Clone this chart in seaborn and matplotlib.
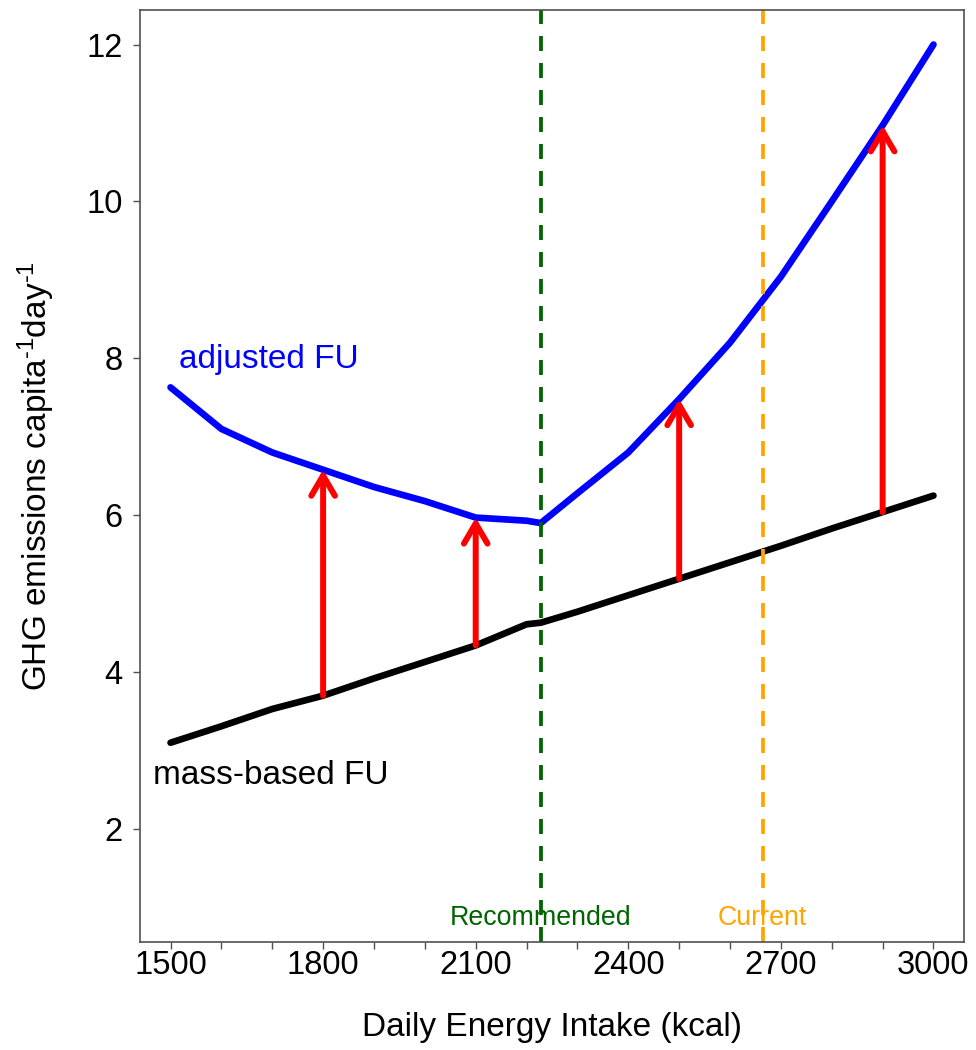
import matplotlib
matplotlib.use("Agg")
import matplotlib.pyplot as plt
import pandas as pd
import seaborn as sns

# ---- data ----
energy = [1500, 1600, 1700, 1800, 1900, 2000, 2100, 2200, 2228, 2300,
          2400, 2500, 2600, 2700, 2800, 2900, 3000]
mass_based = [3.10, 3.31, 3.53, 3.70, 3.92, 4.13, 4.34, 4.61, 4.63, 4.77,
              4.98, 5.19, 5.40, 5.61, 5.83, 6.04, 6.25]
adjusted = [7.63, 7.10, 6.80, 6.58, 6.36, 6.18, 5.97, 5.93, 5.90, 6.28,
            6.80, 7.48, 8.20, 9.04, 10.00, 10.97, 12.00]
arrow_energy = [1800, 2100, 2500, 2900]
recommended_kcal = 2228
current_kcal = 2664
x_major = [1500, 1800, 2100, 2400, 2700, 3000]
x_minor = list(range(1500, 3001, 100))
y_ticks = [2, 4, 6, 8, 10, 12]
series_names = ["mass-based FU", "adjusted FU"]

sns.set_theme(style="ticks")
plt.rcParams["font.family"] = ["Liberation Sans", "DejaVu Sans"]
plt.rcParams["mathtext.default"] = "regular"

W, H = 976, 1050
fig = plt.figure(figsize=(W / 100, H / 100), dpi=100)
ax = fig.add_axes([140 / W, 1 - 942 / H, (964 - 140) / W, (942 - 10) / H])

df = pd.DataFrame({
    "energy": energy + energy,
    "ghg": mass_based + adjusted,
    "fu": [series_names[0]] * len(energy) + [series_names[1]] * len(energy),
})
sns.lineplot(data=df, x="energy", y="ghg", hue="fu", hue_order=series_names,
             palette={series_names[0]: "black", series_names[1]: "#0000FF"},
             linewidth=4.8, legend=False, ax=ax,
             solid_capstyle="round", solid_joinstyle="round")

# red arrows from mass-based to adjusted
for xv in arrow_energy:
    i = energy.index(xv)
    ax.annotate("", xy=(xv, adjusted[i]), xytext=(xv, mass_based[i]),
                arrowprops=dict(arrowstyle="->,head_length=1.45,head_width=0.85",
                                mutation_scale=10, color="#FF0000", lw=4.3,
                                shrinkA=0, shrinkB=0,
                                capstyle="round", joinstyle="round"))

ax.axvline(recommended_kcal, color="#006400", lw=2.7, dashes=(4.0, 3.2))
ax.axvline(current_kcal, color="#FFA500", lw=2.7, dashes=(4.0, 3.2))

ax.text(1517, 7.88, "adjusted FU", color="#0000FF", fontsize=24,
        ha="left", va="baseline")
ax.text(1465, 2.57, "mass-based FU", color="black", fontsize=24,
        ha="left", va="baseline")
ax.text(recommended_kcal, 0.78, "Recommended", color="#006400", fontsize=19.3,
        ha="center", va="baseline")
ax.text(current_kcal, 0.78, "Current", color="#FFA500", fontsize=19.3,
        ha="center", va="baseline")

ax.set_xlim(1440, 3060)
ax.set_ylim(0.56, 12.44)
ax.set_xticks(x_major)
ax.set_xticklabels([str(v) for v in x_major])
ax.set_xticks(x_minor, minor=True)
ax.set_yticks(y_ticks)
ax.set_yticklabels([str(v) for v in y_ticks])

ax.tick_params(which="both", direction="out", length=5, width=1,
               color="#505050")
ax.tick_params(axis="x", pad=0.5, labelsize=23.5, labelcolor="black")
ax.tick_params(axis="y", pad=7.5, labelsize=23.5, labelcolor="black")

for s in ax.spines.values():
    s.set_visible(True)
    s.set_color("#505050")
    s.set_linewidth(1.2)

ax.set_xlabel("Daily Energy Intake (kcal)", fontsize=24, color="black")
ax.set_ylabel("GHG emissions capita$^{\u20101}$day$^{\u20101}$", fontsize=24,
              color="black")
ax.xaxis.set_label_coords(0.5, -0.0755)
ax.yaxis.set_label_coords(-0.1007, 0.5)

fig.savefig("out.png", dpi=100, facecolor="white")
